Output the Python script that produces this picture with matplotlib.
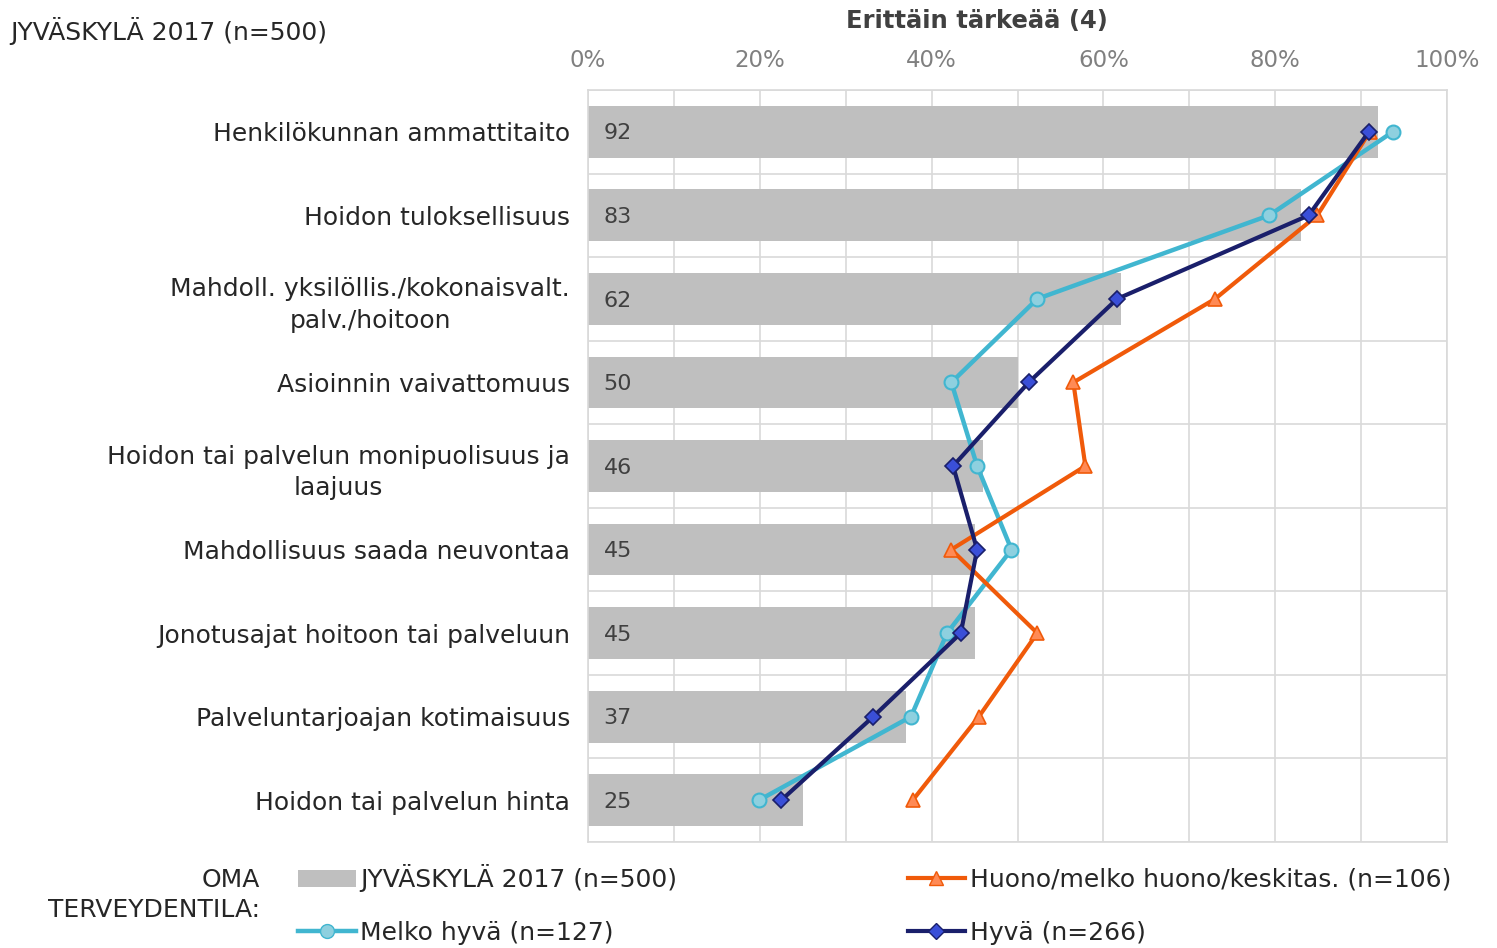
import numpy as np
import matplotlib.pyplot as plt
from matplotlib.patches import Patch
from matplotlib.lines import Line2D

plt.rcParams['font.family'] = ['DejaVu Sans']

categories = ["Henkilökunnan ammattitaito",
              "Hoidon tuloksellisuus",
              "Mahdoll. yksilöllis./kokonaisvalt.\npalv./hoitoon",
              "Asioinnin vaivattomuus",
              "Hoidon tai palvelun monipuolisuus ja\nlaajuus",
              "Mahdollisuus saada neuvontaa",
              "Jonotusajat hoitoon tai palveluun",
              "Palveluntarjoajan kotimaisuus",
              "Hoidon tai palvelun hinta"]
kaikki = [92, 83, 62, 50, 46, 45, 45, 37, 25]
melko_hyva = [93.7, 79.3, 52.3, 42.3, 45.3, 49.3, 41.8, 37.6, 19.9]
hyva = [90.9, 83.9, 61.6, 51.3, 42.5, 45.3, 43.4, 33.2, 22.5]
huono = [91.0, 84.9, 73.0, 56.5, 57.9, 42.3, 52.3, 45.5, 37.8]
xticks = [0, 20, 40, 60, 80, 100]

W, H = 1497, 948
fig = plt.figure(figsize=(W / 100, H / 100), dpi=100)
ax = fig.add_axes([588 / W, 1 - 842 / H, (1447 - 588) / W, (842 - 90) / H])

y = np.arange(len(categories))
ax.barh(y, kaikki, height=0.62, color='#BFBFBF', zorder=2)
for yi, v in zip(y, kaikki):
    ax.text(1.8, yi + 0.02, str(v), va='center', ha='left', fontsize=16, color='#404040', zorder=5)

ax.plot(melko_hyva, y, color='#41B6D0', lw=3.2, marker='o', ms=10,
        mfc='#8ED0DF', mec='#41B6D0', mew=1.5, zorder=4)
ax.plot(huono, y, color='#F05A0A', lw=3.0, marker='^', ms=10,
        mfc='#FF8A55', mec='#F05A0A', mew=1.2, zorder=4)
ax.plot(hyva, y, color='#1A1F6B', lw=3.0, marker='D', ms=8.5,
        mfc='#3A4FD8', mec='#1A1F6B', mew=1.2, zorder=5)

ax.set_xlim(0, 100)
ax.set_ylim(len(categories) - 0.5, -0.5)
ax.set_xticks(np.arange(0, 101, 10), minor=False)
ax.set_xticklabels([f"{t}%" if t in xticks else "" for t in range(0, 101, 10)])
ax.set_yticks(y)
ax.set_yticklabels(categories, fontsize=18, color='#262626', multialignment='center',
                   linespacing=1.4)
ax.set_yticks(np.arange(-0.5, len(categories), 1), minor=True)
ax.xaxis.tick_top()
ax.tick_params(axis='x', length=0, pad=13, labelsize=16.5, labelcolor='#808080')
ax.tick_params(axis='y', which='both', length=0, pad=13)
ax.grid(axis='x', color='#D9D9D9', lw=1.2, zorder=0)
ax.grid(axis='y', which='minor', color='#D9D9D9', lw=1.2, zorder=0)
for s in ax.spines.values():
    s.set_color('#D9D9D9')
    s.set_linewidth(1.2)

fig.text(977 / W, 1 - 21 / H, "Erittäin tärkeää (4)", ha='center', va='center',
         fontsize=17.5, fontweight='bold', color='#404040')
fig.text(327 / W, 1 - 31 / H, "JYVÄSKYLÄ 2017 (n=500)", ha='right', va='center',
         fontsize=18, color='#262626')
fig.text(260 / W, 1 - 895 / H, "OMA\nTERVEYDENTILA:", ha='right', va='center',
         multialignment='right', fontsize=18, color='#262626', linespacing=1.3)

h_bar = Patch(facecolor='#BFBFBF', edgecolor='none')
h_melko = Line2D([], [], color='#41B6D0', lw=3.2, marker='o', ms=10, mfc='#8ED0DF', mec='#41B6D0')
h_huono = Line2D([], [], color='#F05A0A', lw=3.0, marker='^', ms=10, mfc='#FF8A55', mec='#F05A0A')
h_hyva = Line2D([], [], color='#1A1F6B', lw=3.0, marker='D', ms=8.5, mfc='#3A4FD8', mec='#1A1F6B')

leg = fig.legend([h_bar, h_melko, h_huono, h_hyva],
                 ["JYVÄSKYLÄ 2017 (n=500)", "Melko hyvä (n=127)",
                  "Huono/melko huono/keskitas. (n=106)", "Hyvä (n=266)"],
                 ncol=2, loc='upper left', bbox_to_anchor=(298 / W, 1 - 864 / H),
                 frameon=False, fontsize=18, handlelength=2.3, handleheight=0.7,
                 handletextpad=0.2, labelspacing=1.15, columnspacing=9.2,
                 borderaxespad=0, borderpad=0)
for t in leg.get_texts():
    t.set_color('#262626')

fig.savefig("out.png", dpi=100, facecolor='white')
